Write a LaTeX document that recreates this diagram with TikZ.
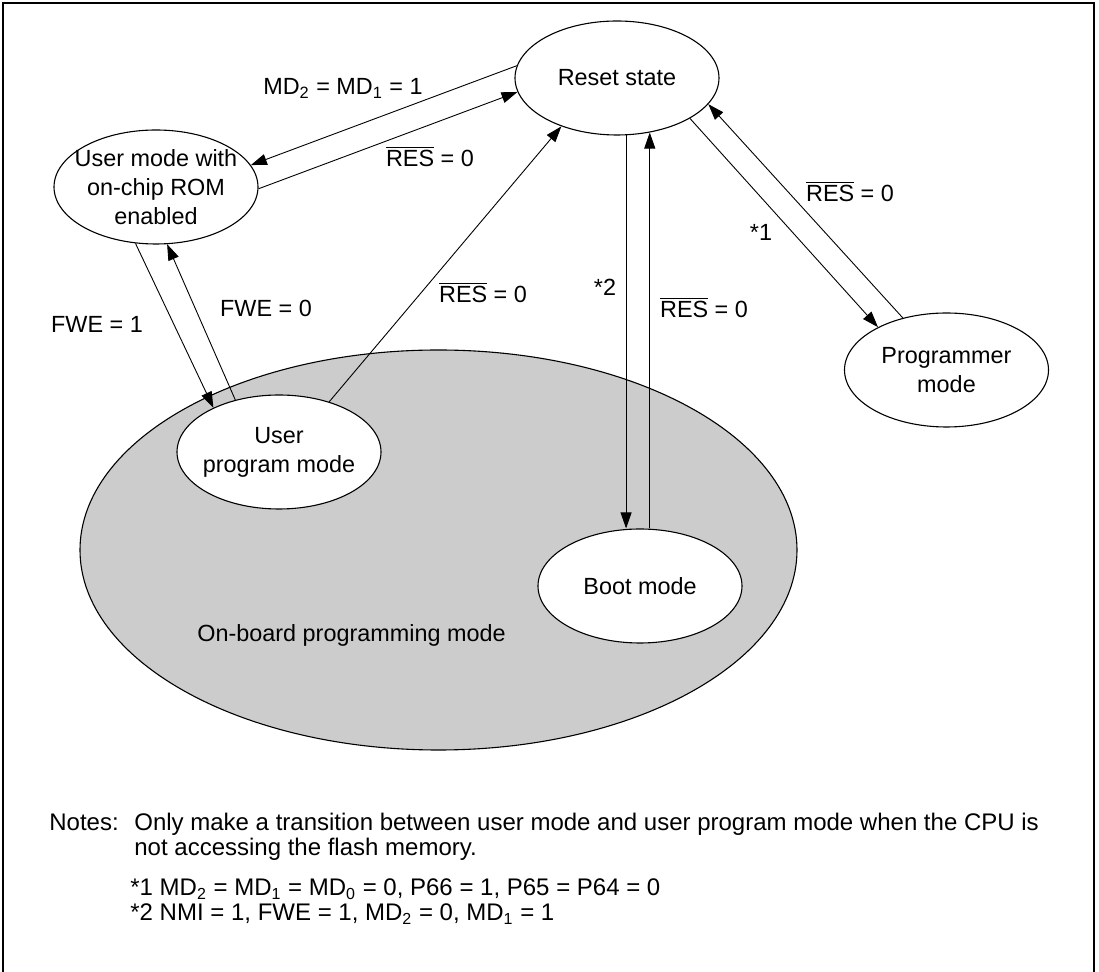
\documentclass[tikz,border=0pt]{standalone}
\usepackage{fontspec}
\setmainfont{Liberation Sans}
\usetikzlibrary{arrows.meta,shapes.geometric}
\definecolor{boardgray}{HTML}{CCCCCC}
\newcommand{\resbar}{$\overline{\mbox{RES}}$}

\begin{document}
\begin{tikzpicture}[x=0.5pt,y=-0.5pt,
 every node/.style={font=\fontsize{11.7}{14.5}\selectfont},
 st/.style={draw,ellipse,fill=white,line width=0.55pt,minimum width=102pt,minimum height=57pt,inner sep=-8pt,align=center},
 lbl/.style={anchor=base,inner sep=0pt},
 notetxt/.style={anchor=base west,inner sep=0pt,font=\fontsize{12}{14.5}\selectfont},
 ar/.style={line width=0.45pt,-{Triangle[length=8pt,width=5.5pt]}}]
\useasboundingbox (0,0) rectangle (1099,972);
\draw[line width=1pt] (3,972) -- (3,3) -- (1094,3) -- (1094,972);
% on-board area
\node[draw,ellipse,fill=boardgray,line width=0.55pt,minimum width=358.5pt,minimum height=200pt] (board) at (438.5,550) {};
\node[lbl,anchor=base west] (boardlbl) at (197,642) {On-board programming mode};
% states
\node[st] (reset) at (617,78) {Reset state};
\node[st] (user) at (156,187) {User mode with\\on-chip ROM\\enabled};
\node[st] (uprog) at (279,452) {User\\program mode};
\node[st] (boot) at (640,586) {Boot mode};
\node[st] (prog) at (946.5,370) {Programmer\\mode};
% transitions
\draw[ar] (reset.173) -- (user.13);
\draw[ar] (user.-1) -- (reset.188);
\draw[ar] (uprog.45.6) -- (reset.221.7);
\draw[ar] (user.250.3) -- (uprog.146.3);
\draw[ar] (uprog.130.1) -- (user.281);
\draw[ar] (reset.279) -- (reset.279 |- boot.north);
\draw[ar] (reset.301 |- boot.north) -- (reset.301);
\draw[ar] (reset.331.9) -- (prog.148.5);
\draw[ar] (prog.130.6) -- (reset.344.5);
% conditions
\node[lbl] (mdlbl) at (343,95) {MD\textsubscript{2} = MD\textsubscript{1} = 1};
\node[lbl] (res1) at (430,167) {\resbar{} = 0};
\node[lbl] (res2) at (483,303) {\resbar{} = 0};
\node[lbl] (fwe1) at (97,333) {FWE = 1};
\node[lbl] (fwe0) at (266,317) {FWE = 0};
\node[lbl] (star2) at (605,296) {*2};
\node[lbl] (res3) at (704,318) {\resbar{} = 0};
\node[lbl] (star1) at (761,241) {*1};
\node[lbl] (res4) at (850,202) {\resbar{} = 0};
% notes
\node[notetxt] (notes) at (49,831) {Notes:};
\node[notetxt] (note1) at (134,831) {Only make a transition between user mode and user program mode when the CPU is};
\node[notetxt] (note2) at (134,856) {not accessing the flash memory.};
\node[notetxt] (fn1) at (130,896) {*1 MD\textsubscript{2} = MD\textsubscript{1} = MD\textsubscript{0} = 0, P66 = 1, P65 = P64 = 0};
\node[notetxt] (fn2) at (130,921) {*2 NMI = 1, FWE = 1, MD\textsubscript{2} = 0, MD\textsubscript{1} = 1};
\end{tikzpicture}
\end{document}
